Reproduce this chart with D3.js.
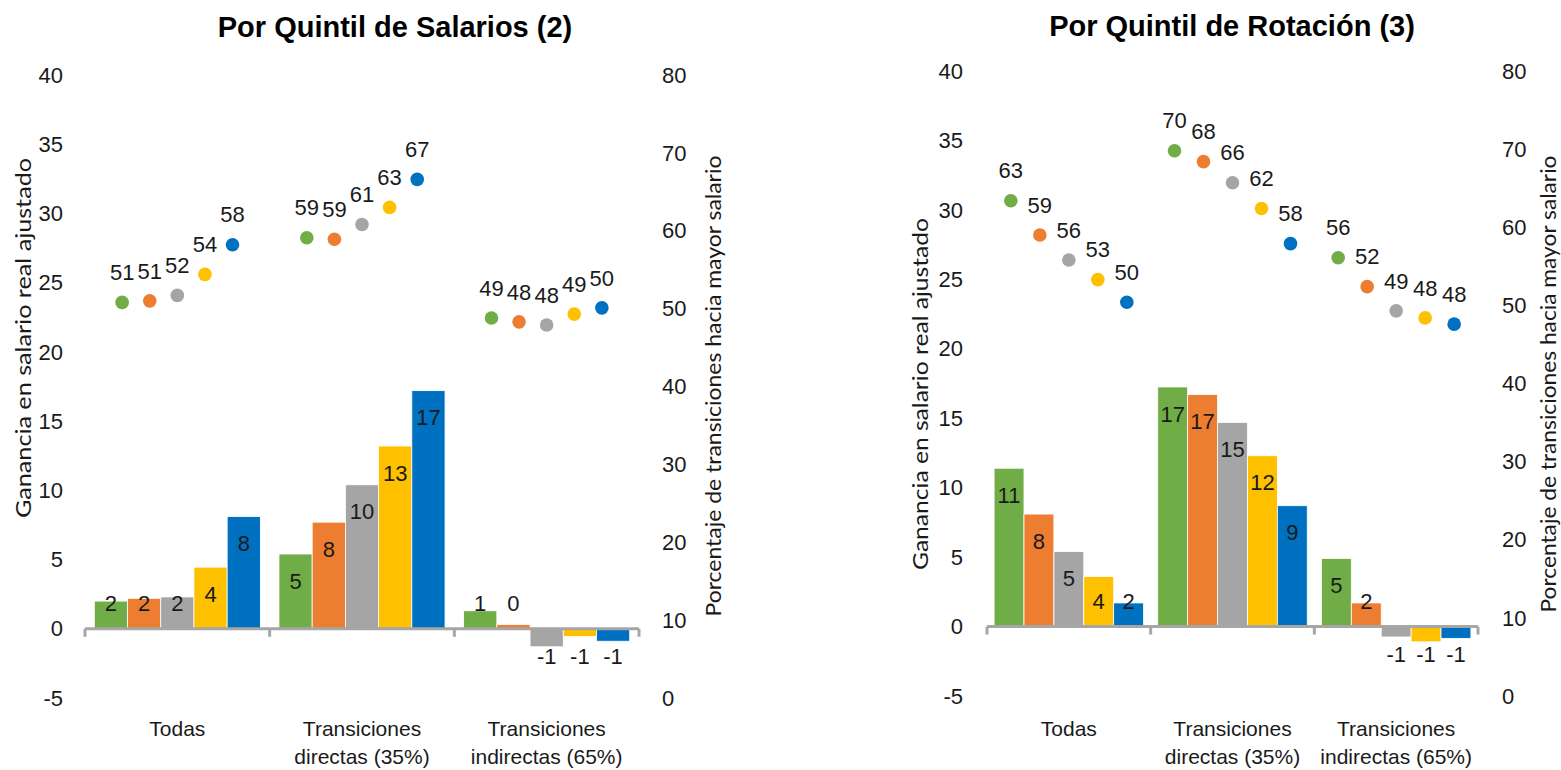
<!DOCTYPE html>
<html>
<head>
<meta charset="utf-8">
<script src="https://d3js.org/d3.v7.min.js"></script>
<style>
body { margin: 0; background: #fff; }
svg { display: block; }
.tick-label, .cat-label, .bar-label, .dot-label {
  font-family: "Liberation Sans", Arial, sans-serif;
  fill: #1a1a1a;
}
.tick-label { font-size: 22px; }
.cat-label { font-size: 21px; }
.bar-label, .dot-label { font-size: 22px; }
.axis-title { font-family: Lato, "Open Sans", sans-serif; font-size: 21px; fill: #1a1a1a; }
.chart-title { font-family: "Liberation Sans", Arial, sans-serif; font-weight: bold; font-size: 29px; fill: #000; }
</style>
</head>
<body>
<svg width="1561" height="770"></svg>
<script>
// categories and quintiles
var categories = [["Todas"], ["Transiciones", "directas (35%)"], ["Transiciones", "indirectas (65%)"]];
var quintiles = ["Q1", "Q2", "Q3", "Q4", "Q5"];
var colors = ["#70AD47", "#ED7D31", "#A5A5A5", "#FFC000", "#0070C0"];
var leftTicks = [-5, 0, 5, 10, 15, 20, 25, 30, 35, 40];
var rightTicks = [0, 10, 20, 30, 40, 50, 60, 70, 80];

// Por Quintil de Salarios: wage gain (bars) and % towards higher wage (dots)
var salGain = [[2.0, 2.2, 2.3, 4.45, 8.1], [5.4, 7.7, 10.4, 13.2, 17.2], [1.3, 0.3, -1.3, -0.55, -0.9]];
var salPct = [[50.8, 51.0, 51.7, 54.4, 58.2], [59.1, 58.9, 60.8, 63.0, 66.6], [48.8, 48.3, 47.9, 49.3, 50.1]];

// Por Quintil de Rotacion
var rotGain = [[11.4, 8.1, 5.4, 3.6, 1.7], [17.25, 16.7, 14.7, 12.3, 8.7], [4.9, 1.7, -0.75, -1.1, -0.85]];
var rotPct = [[63.4, 59.0, 55.8, 53.3, 50.4], [69.8, 68.4, 65.7, 62.4, 57.9], [56.1, 52.4, 49.3, 48.4, 47.6]];

var leftTitle = "Ganancia en salario real ajustado";
var rightTitle = "Porcentaje de transiciones hacia mayor salario";

var svg = d3.select("svg");

var panels = [
  {title: "Por Quintil de Salarios (2)", gain: salGain, pct: salPct,
   x0: 85, x1: 639, yTop: 75, yBot: 698, lTickX: 63, rTickX: 662, dotStep: 27.6, barPad: 0.28,
   titleX: 395, titleY: 37, t1: {x: 24, y: 338, len: 360}, t2: {x: 714, y: 386, len: 461}},
  {title: "Por Quintil de Rotación (3)", gain: rotGain, pct: rotPct,
   x0: 987, x1: 1478, yTop: 71, yBot: 696, lTickX: 963, rTickX: 1502, dotStep: 29, barPad: 0.237,
   titleX: 1232, titleY: 36, t1: {x: 921, y: 394, len: 352}, t2: {x: 1549, y: 384, len: 457}}
];

panels.forEach(function(p) {
  var g = svg.append("g");
  var cats = categories.map(function(c) { return c.join(" "); });

  var x = d3.scaleBand().domain(cats).range([p.x0, p.x1]);
  var xb = d3.scaleBand().domain(quintiles).range([0, x.bandwidth()]).paddingOuter(p.barPad);
  var xd = d3.scalePoint().domain(quintiles).range([-2 * p.dotStep, 2 * p.dotStep]);
  var y = d3.scaleLinear().domain([-5, 40]).range([p.yBot, p.yTop]);
  var y2 = d3.scaleLinear().domain([0, 80]).range([p.yBot, p.yTop]);
  var base = y(0);

  // title
  g.append("text").attr("class", "chart-title")
    .attr("x", p.titleX).attr("y", p.titleY)
    .attr("text-anchor", "middle").text(p.title);

  // left tick labels
  g.selectAll(".lt").data(leftTicks).enter().append("text")
    .attr("class", "tick-label").attr("text-anchor", "end")
    .attr("x", p.lTickX).attr("y", function(d) { return y(d); }).attr("dy", "0.35em")
    .text(function(d) { return d; });

  // right tick labels
  g.selectAll(".rt").data(rightTicks).enter().append("text")
    .attr("class", "tick-label").attr("text-anchor", "start")
    .attr("x", p.rTickX).attr("y", function(d) { return y2(d); }).attr("dy", "0.35em")
    .text(function(d) { return d; });

  // axis titles
  g.append("text").attr("class", "axis-title")
    .attr("transform", "translate(" + p.t1.x + "," + p.t1.y + ") rotate(-90)")
    .attr("text-anchor", "middle").attr("dy", "0.35em")
    .attr("textLength", p.t1.len).attr("lengthAdjust", "spacingAndGlyphs")
    .text(leftTitle);
  g.append("text").attr("class", "axis-title")
    .attr("transform", "translate(" + p.t2.x + "," + p.t2.y + ") rotate(-90)")
    .attr("text-anchor", "middle").attr("dy", "0.35em")
    .attr("textLength", p.t2.len).attr("lengthAdjust", "spacingAndGlyphs")
    .text(rightTitle);

  // bars
  var barData = [];
  p.gain.forEach(function(row, i) {
    row.forEach(function(v, j) { barData.push({cat: cats[i], q: quintiles[j], v: v, j: j}); });
  });

  g.selectAll(".bar").data(barData).enter().append("rect")
    .attr("x", function(d) { return x(d.cat) + xb(d.q); })
    .attr("width", xb.bandwidth())
    .attr("y", function(d) { return Math.min(y(d.v), base); })
    .attr("height", function(d) { return Math.abs(y(d.v) - base); })
    .attr("fill", function(d) { return colors[d.j]; })
    .attr("stroke", "#fff").attr("stroke-width", 0.8);

  // x axis line and ticks
  g.append("line").attr("x1", p.x0).attr("x2", p.x1).attr("y1", base).attr("y2", base)
    .attr("stroke", "#A6A6A6").attr("stroke-width", 3);
  var bounds = cats.map(function(c) { return x(c); }).concat([p.x1]);
  g.selectAll(".xt").data(bounds).enter().append("line")
    .attr("x1", function(d) { return d; }).attr("x2", function(d) { return d; })
    .attr("y1", base).attr("y2", base + 8)
    .attr("stroke", "#A6A6A6").attr("stroke-width", 3);

  // bar labels
  g.selectAll(".bl").data(barData).enter().append("text")
    .attr("class", "bar-label").attr("text-anchor", "middle")
    .attr("x", function(d) { return x(d.cat) + xb(d.q) + xb.bandwidth() / 2; })
    .attr("y", function(d) {
      var t = y(d.v);
      return d.v >= 0 ? Math.min(t + 27, base - 25) : Math.max(t - 27, base + 27.5);
    })
    .attr("dy", "0.35em")
    .text(function(d) { return String(Math.round(d.v)); });

  // dots
  var dotData = [];
  p.pct.forEach(function(row, i) {
    row.forEach(function(v, j) { dotData.push({cat: cats[i], q: quintiles[j], v: v, j: j}); });
  });

  g.selectAll(".dot").data(dotData).enter().append("circle")
    .attr("cx", function(d) { return x(d.cat) + x.bandwidth() / 2 + xd(d.q); })
    .attr("cy", function(d) { return y2(d.v); })
    .attr("r", 6.8)
    .attr("fill", function(d) { return colors[d.j]; });

  g.selectAll(".dl").data(dotData).enter().append("text")
    .attr("class", "dot-label").attr("text-anchor", "middle")
    .attr("x", function(d) { return x(d.cat) + x.bandwidth() / 2 + xd(d.q); })
    .attr("y", function(d) { return y2(d.v) - 30; })
    .attr("dy", "0.35em")
    .text(function(d) { return String(Math.round(d.v)); });

  // category labels
  var cl = g.selectAll(".cl").data(categories).enter().append("text")
    .attr("class", "cat-label").attr("text-anchor", "middle");
  cl.each(function(lines, i) {
    var cx = x(cats[i]) + x.bandwidth() / 2;
    d3.select(this).selectAll("tspan").data(lines).enter().append("tspan")
      .attr("x", cx)
      .attr("y", function(d, k) { return 736 + k * 28; })
      .text(function(d) { return d; });
  });
});
</script>
</body>
</html>
